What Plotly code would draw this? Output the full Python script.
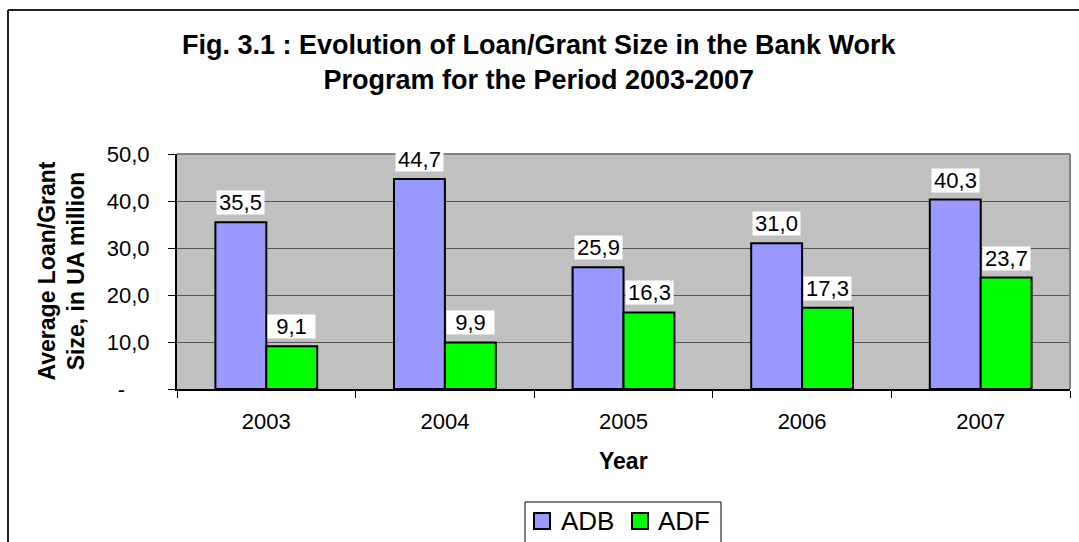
import plotly.graph_objects as go

years = ["2003", "2004", "2005", "2006", "2007"]
adb = [35.5, 44.7, 25.9, 31.0, 40.3]
adf = [9.1, 9.9, 16.3, 17.3, 23.7]
series_names = ["ADB", "ADF"]
ytick_vals = [0, 10, 20, 30, 40, 50]
ytick_text = ["-\u00a0\u00a0\u00a0\u00a0", "10,0", "20,0", "30,0", "40,0", "50,0"]

FONT = "Arial, Liberation Sans, sans-serif"
colors = {"ADB": "#9999FF", "ADF": "#00FF00"}

fig = go.Figure()
for name, vals in zip(series_names, [adb, adf]):
    fig.add_trace(go.Bar(
        x=years, y=vals, name=name, showlegend=False,
        marker=dict(color=colors[name], line=dict(color="black", width=2)),
    ))

def fmt(v):
    return f"{v:.1f}".replace(".", ",")

L, T, B = 177, 154, 389
W = 1070 - 177
H = 389 - 154
def px(xp):
    return (xp - L) / W
def py(yp):
    return (B - yp) / H

annotations = []
for name, vals, shift in [("ADB", adb, -25.5), ("ADF", adf, 25.5)]:
    for i, v in enumerate(vals):
        annotations.append(dict(
            x=i, y=v, xref="x", yref="y", text=fmt(v), showarrow=False,
            xshift=shift, yshift=7, yanchor="bottom", xanchor="center",
            bgcolor="white", width=47, height=23, borderpad=0, valign="middle",
            font=dict(family=FONT, size=22, color="black"),
        ))

# title
annotations.append(dict(
    x=px(539), y=py(62), xref="paper", yref="paper",
    text="<b>Fig. 3.1 : Evolution of Loan/Grant Size in the Bank Work<br>Program for the Period 2003-2007</b>",
    showarrow=False, xanchor="center", yanchor="middle", align="center",
    font=dict(family=FONT, size=27, color="black"),
))
# y axis title
annotations.append(dict(
    x=px(61), y=0.5, xref="paper", yref="paper",
    text="<b>Average Loan/Grant<br>Size, in UA million</b>",
    showarrow=False, textangle=-90, xanchor="center", yanchor="middle", align="center",
    font=dict(family=FONT, size=23, color="black"),
))
# x axis title
annotations.append(dict(
    x=0.5, y=py(461), xref="paper", yref="paper",
    text="<b>Year</b>", showarrow=False, xanchor="center", yanchor="middle",
    font=dict(family=FONT, size=23, color="black"),
))

shapes = [
    # outer frame
    dict(type="line", xref="paper", yref="paper", x0=px(8), x1=px(1085), y0=py(10), y1=py(10),
         line=dict(color="#222222", width=2)),
    dict(type="line", xref="paper", yref="paper", x0=px(8), x1=px(8), y0=py(10), y1=py(548),
         line=dict(color="#222222", width=2)),
    # plot area top/right border
    dict(type="line", xref="paper", yref="paper", x0=0, x1=1, y0=1, y1=1,
         line=dict(color="#808080", width=2)),
    dict(type="line", xref="paper", yref="paper", x0=1, x1=1, y0=0, y1=1,
         line=dict(color="#808080", width=2)),
    # legend box (cut off at the bottom edge like the reference)
    dict(type="rect", xref="paper", yref="paper", x0=px(525), x1=px(721), y0=py(502), y1=py(560),
         line=dict(color="black", width=1), fillcolor="white"),
]

# legend entries
leg_items = [("ADB", 534, 559), ("ADF", 632, 656)]
for name, sx, tx in leg_items:
    shapes.append(dict(type="rect", xref="paper", yref="paper",
                       x0=px(sx), x1=px(sx + 16), y0=py(513), y1=py(529),
                       line=dict(color="black", width=2), fillcolor=colors[name]))
    annotations.append(dict(x=px(tx), y=py(521), xref="paper", yref="paper", text=name,
                            showarrow=False, xanchor="left", yanchor="middle",
                            font=dict(family=FONT, size=26, color="black")))

fig.update_layout(
    width=1079, height=542,
    margin=dict(l=L, r=1079 - 1070, t=T, b=542 - B),
    paper_bgcolor="white", plot_bgcolor="#C0C0C0",
    barmode="group", bargap=0.43, bargroupgap=0,
    font=dict(family=FONT, size=22, color="black"),
    annotations=annotations, shapes=shapes,
    showlegend=False,
    xaxis=dict(type="category", categoryorder="array", categoryarray=years,
               range=[-0.5, len(years) - 0.5],
               tickson="boundaries", ticks="outside", ticklen=7,
               tickcolor="black", showline=True, linecolor="black", linewidth=2,
               showgrid=False, tickfont=dict(family=FONT, size=22, color="black"),
               ticklabelstandoff=12, fixedrange=True),
    yaxis=dict(range=[0, 50], tickvals=ytick_vals, ticktext=ytick_text,
               ticks="outside", ticklen=7, tickcolor="black", showline=True,
               linecolor="black", linewidth=2, showgrid=True, gridcolor="#555555",
               gridwidth=1, zeroline=False, tickfont=dict(family=FONT, size=22, color="black"),
               ticklabelstandoff=14, fixedrange=True),
)

fig.write_html("out.html")
